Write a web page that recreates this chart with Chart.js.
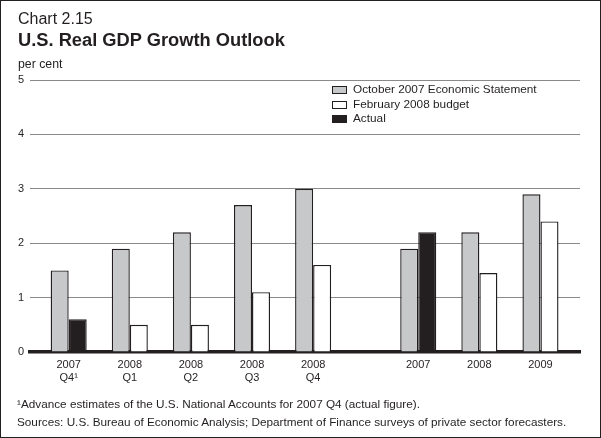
<!DOCTYPE html>
<html><head><meta charset="utf-8">
<script src="https://cdn.jsdelivr.net/npm/chart.js@4.4.1/dist/chart.umd.min.js"></script>
<style>
html,body{margin:0;padding:0;background:#fff;}
body{width:601px;height:438px;position:relative;overflow:hidden;font-family:"Liberation Sans",Arial,sans-serif;color:#231f20;}
#frame{position:absolute;left:0;top:0;width:601px;height:438px;box-sizing:border-box;border:1.5px solid #231f20;pointer-events:none;}
#c{position:absolute;left:0;top:0;}
.t{position:absolute;white-space:nowrap;line-height:1;}
#num{left:18px;top:10.5px;font-size:16px;}
#title{left:18px;top:30.5px;font-size:18.3px;font-weight:bold;}
#unit{left:18px;top:57.5px;font-size:12.3px;}
#legend{position:absolute;left:332px;top:83px;font-size:11.8px;line-height:1;}
.li{height:14.5px;display:flex;align-items:center;white-space:nowrap;}
.sw{width:15px;height:8px;box-sizing:border-box;border:1px solid #231f20;margin-right:6px;}
#fn1{left:17px;top:398.4px;font-size:11.75px}
#fn2{left:17px;top:416.4px;font-size:11.75px}
</style></head>
<body>
<canvas id="c" width="601" height="438"></canvas>
<div class="t" id="num">Chart 2.15</div>
<div class="t" id="title">U.S. Real GDP Growth Outlook</div>
<div class="t" id="unit">per cent</div>
<div id="legend">
 <div class="li"><span class="sw" style="background:#c7c8ca"></span>October 2007 Economic Statement</div>
 <div class="li"><span class="sw" style="background:#fff"></span>February 2008 budget</div>
 <div class="li"><span class="sw" style="background:#231f20"></span>Actual</div>
</div>
<div class="t" id="fn1">¹Advance estimates of the U.S. National Accounts for 2007 Q4 (actual figure).</div>
<div class="t" id="fn2">Sources: U.S. Bureau of Economic Analysis; Department of Finance surveys of private sector forecasters.</div>
<div id="frame"></div>
<script>
const categories = [['2007','Q4¹'],['2008','Q1'],['2008','Q2'],['2008','Q3'],['2008','Q4'],['2007'],['2008'],['2009']];
const october2007 = [1.5, 1.9, 2.2, 2.7, 3.0, 1.9, 2.2, 2.9];
const february2008 = [null, 0.5, 0.5, 1.1, 1.6, null, 1.45, 2.4];
const actual = [0.6, null, null, null, null, 2.2, null, null];
const yTicks = [0, 1, 2, 3, 4, 5];

const GAP = 0.72;
const xPos = i => (i < 5 ? i : i + GAP);
const toPts = arr => arr.map((v, i) => ({x: xPos(i), y: v}));
const ink = '#231f20';
const font = {family: '"Liberation Sans", Arial, sans-serif', size: 11};

new Chart(document.getElementById('c'), {
  type: 'bar',
  data: {
    datasets: [
      {label: 'October 2007 Economic Statement', data: toPts(october2007), stack: 'a',
       backgroundColor: '#c7c8ca', borderColor: ink, borderWidth: 1.4},
      {label: 'February 2008 budget', data: toPts(february2008), stack: 'b',
       backgroundColor: '#ffffff', borderColor: ink, borderWidth: 1.4},
      {label: 'Actual', data: toPts(actual), stack: 'b',
       backgroundColor: ink, borderColor: ink, borderWidth: 1.4}
    ]
  },
  options: {
    responsive: false,
    animation: false,
    events: [],
    categoryPercentage: 0.59,
    barPercentage: 1,
    layout: {padding: {left: 12, top: 80, right: 21, bottom: 46}},
    plugins: {legend: {display: false}, title: {display: false}, tooltip: {enabled: false}},
    scales: {
      x: {
        type: 'linear', min: -0.633, max: 8.367, offset: false, z: 1,
        grid: {display: false, drawTicks: false},
        border: {display: true, color: ink, width: 3.5},
        afterBuildTicks: s => { s.ticks = categories.map((_, i) => ({value: xPos(i)})); },
        afterFit: s => { s.height = 40; },
        ticks: {autoSkip: false, maxRotation: 0, minRotation: 0, padding: 6, color: ink, font: font,
                callback: (v, i) => categories[i]}
      },
      y: {
        stacked: true, min: 0, max: 5,
        afterBuildTicks: s => { s.ticks = yTicks.map(v => ({value: v})); },
        afterFit: s => { s.width = 18; },
        grid: {drawTicks: false, lineWidth: 1,
               color: c => (c.tick && c.tick.value === 0 ? 'rgba(0,0,0,0)' : '#8a8a8a')},
        border: {display: false},
        ticks: {padding: 6, color: ink, font: font}
      }
    }
  }
});
</script>
</body></html>
